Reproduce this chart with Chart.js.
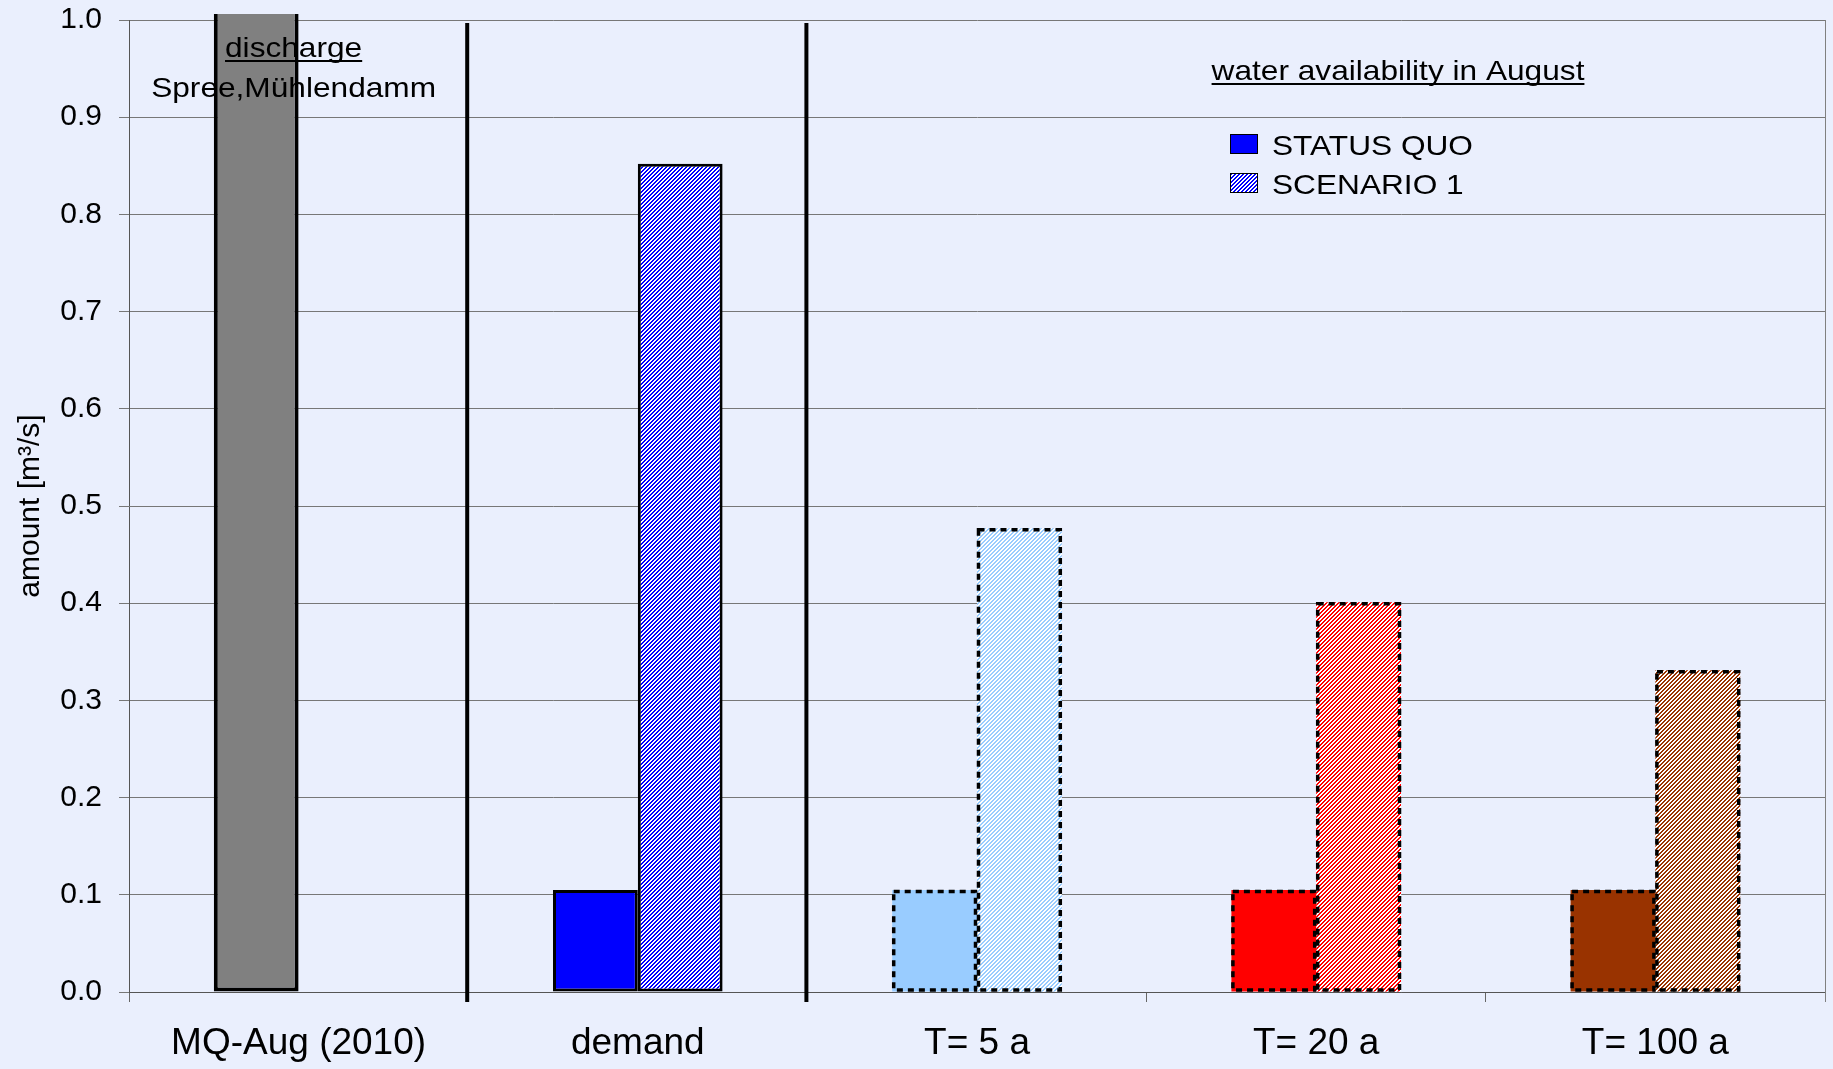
<!DOCTYPE html>
<html>
<head>
<meta charset="utf-8">
<title>water availability in August</title>
<script src="https://cdn.jsdelivr.net/npm/chart.js@4.4.1/dist/chart.umd.min.js"></script>
<style>
  html, body { margin: 0; padding: 0; background: #eaeffd; }
  #wrap { width: 1833px; height: 1069px; }
</style>
</head>
<body>
<div id="wrap"><canvas id="waterChart" width="1833" height="1069"></canvas></div>
<script>
// data
const categories = ['MQ-Aug (2010)', 'demand', 'T= 5 a', 'T= 20 a', 'T= 100 a'];
const statusQuo = [1.5, 0.105, 0.105, 0.105, 0.105];   // MQ bar runs off the top
const scenario1 = [null, 0.852, 0.477, 0.401, 0.331];
const yTicks = [0, 0.1, 0.2, 0.3, 0.4, 0.5, 0.6, 0.7, 0.8, 0.9, 1.0];

// styling per category
const barColors = ['#808080', '#0000ff', '#99ccff', '#ff0000', '#993300'];
const dashed = [false, false, true, true, true];
const FONT = '"Liberation Sans", Arial, sans-serif';
const STRETCH = 1.13; // the source picture's text is a bit wide

// fine "/" hatching like the Excel pattern fill
function hatch(fg, bg) {
    const c = document.createElement('canvas');
    c.width = 4; c.height = 4;
    const g = c.getContext('2d');
    g.fillStyle = bg;
    g.fillRect(0, 0, 4, 4);
    g.fillStyle = fg;
    for (let px = 0; px < 4; px++) {
        for (let py = 0; py < 4; py++) {
            if ((px + py) % 4 < 2) g.fillRect(px, py, 1, 1);
        }
    }
    return document.getElementById('waterChart').getContext('2d').createPattern(c, 'repeat');
}

const sqFill = barColors;
const scFill = barColors.map(c => hatch(c, '#ffffff'));

// draw text stretched horizontally, returns its extent
function wideText(ctx, txt, x, y, align) {
    const w = ctx.measureText(txt).width * STRETCH;
    const left = align === 'center' ? x - w / 2 : x;
    ctx.save();
    ctx.translate(left, y);
    ctx.scale(STRETCH, 1);
    ctx.textAlign = 'left';
    ctx.fillText(txt, 0, 0);
    ctx.restore();
    return { left, w };
}

const overlay = {
    id: 'overlay',
    afterDatasetsDraw(chart) {
        const { ctx, chartArea, scales: { x } } = chart;
        ctx.save();

        // dashed outlines for the return-period bars
        ctx.strokeStyle = '#000';
        ctx.lineWidth = 3.5;
        ctx.setLineDash([6, 5]);
        chart.data.datasets.forEach((ds, di) => {
            const meta = chart.getDatasetMeta(di);
            meta.data.forEach((bar, i) => {
                if (!dashed[i] || ds.data[i] == null) return;
                const p = bar.getProps(['x', 'y', 'base', 'width'], true);
                ctx.strokeRect(p.x - p.width / 2 + 1.5, p.y + 1.5, p.width - 3, p.base - p.y - 3);
            });
        });
        ctx.setLineDash([]);

        // separators between the three groups
        ctx.lineWidth = 4;
        for (let i = 0; i < 2; i++) {
            const bx = (x.getPixelForValue(i) + x.getPixelForValue(i + 1)) / 2 - 1;
            ctx.beginPath();
            ctx.moveTo(bx, chartArea.top + 3);
            ctx.lineTo(bx, chartArea.bottom + 10);
            ctx.stroke();
        }

        // right edge of plot area
        ctx.strokeStyle = '#808080';
        ctx.lineWidth = 1;
        ctx.beginPath();
        ctx.moveTo(chartArea.right + 0.5, chartArea.top);
        ctx.lineTo(chartArea.right + 0.5, chartArea.bottom + 10);
        ctx.stroke();

        // text notes
        ctx.fillStyle = '#000';
        ctx.strokeStyle = '#000';
        ctx.font = '28px ' + FONT;
        ctx.textBaseline = 'alphabetic';
        const underlined = (txt, cx, by) => {
            const r = wideText(ctx, txt, cx, by, 'center');
            ctx.lineWidth = 2;
            ctx.beginPath();
            ctx.moveTo(r.left, by + 4);
            ctx.lineTo(r.left + r.w, by + 4);
            ctx.stroke();
        };
        const mqX = x.getPixelForValue(0) - 5;
        underlined('discharge', mqX, chartArea.top + 37);
        wideText(ctx, 'Spree,Mühlendamm', mqX, chartArea.top + 77, 'center');
        underlined('water availability in August', chartArea.right - 427, chartArea.top + 60);

        // legend
        chart.data.datasets.forEach((ds, i) => {
            const top = chartArea.top + 114 + i * 39;
            ctx.fillStyle = ds.legendFill;
            ctx.fillRect(1230, top, 28, 20);
            ctx.strokeStyle = '#000';
            ctx.lineWidth = 1;
            ctx.strokeRect(1230.5, top + 0.5, 27, 19);
            ctx.fillStyle = '#000';
            wideText(ctx, ds.label, 1272, top + 21, 'left');
        });

        ctx.restore();
    }
};

Chart.defaults.font.family = FONT;
Chart.defaults.color = '#000';

new Chart(document.getElementById('waterChart'), {
    type: 'bar',
    data: {
        labels: categories,
        datasets: [
            {
                label: 'STATUS QUO',
                data: statusQuo,
                backgroundColor: sqFill,
                borderColor: '#000',
                borderWidth: [4, 3, 0, 0, 0],
                borderSkipped: false,
                legendFill: '#0000ff',
                clip: { left: false, top: 6, right: false, bottom: false }
            },
            {
                label: 'SCENARIO 1',
                data: scenario1,
                backgroundColor: scFill,
                borderColor: '#000',
                borderWidth: [0, 3, 0, 0, 0],
                borderSkipped: false,
                legendFill: scFill[1]
            }
        ]
    },
    options: {
        responsive: false,
        animation: false,
        layout: { padding: { top: 20, right: 8, left: 0, bottom: 0 } },
        datasets: {
            bar: { categoryPercentage: 0.5, barPercentage: 1.0 }
        },
        plugins: {
            legend: { display: false },
            tooltip: { enabled: false }
        },
        scales: {
            x: {
                offset: true,
                grid: {
                    offset: true,
                    drawOnChartArea: false,
                    drawTicks: true,
                    tickLength: 10,
                    color: '#666'
                },
                border: { color: '#555' },
                ticks: {
                    font: { size: 37 },
                    padding: 20,
                    maxRotation: 0,
                    autoSkip: false
                },
                afterFit(scale) { scale.height = 77; }
            },
            y: {
                min: 0,
                max: 1,
                afterBuildTicks(scale) {
                    scale.ticks = yTicks.map(v => ({ value: v }));
                },
                ticks: {
                    font: { size: 30 },
                    padding: 17,
                    callback: v => v.toFixed(1)
                },
                grid: {
                    color: '#777',
                    tickLength: 10,
                    lineWidth: 1
                },
                border: { color: '#555' },
                title: {
                    display: true,
                    text: 'amount [m³/s]',
                    font: { size: 30 },
                    padding: { top: 13, bottom: 0 }
                },
                afterFit(scale) {
                    scale.width = 129;
                    // let the top label hang over, as in the source
                    scale.paddingTop = 0;
                    scale.paddingBottom = 0;
                }
            }
        }
    },
    plugins: [overlay]
});
</script>
</body>
</html>
